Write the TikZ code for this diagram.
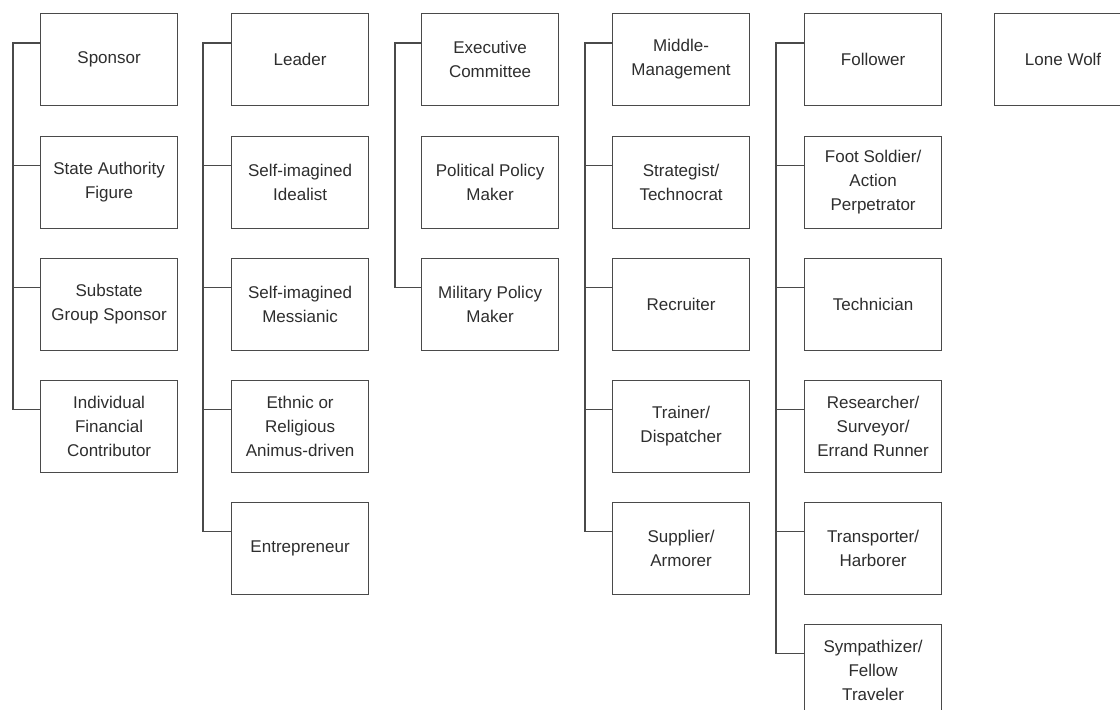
\documentclass[tikz,border=0pt]{standalone}
\usepackage{fontspec}
\setmainfont{Liberation Sans}
\definecolor{linec}{HTML}{4A4A4A}
\definecolor{textc}{HTML}{2E2E2E}
\tikzset{
  rolebox/.style={draw=linec, line width=1.2pt, fill=white, anchor=north west,
    minimum width=137pt, minimum height=92pt, inner sep=2pt, align=center,
    text=textc, font=\fontsize{17}{24}\selectfont},
  link/.style={draw=linec, line width=1.2pt}
}
\begin{document}
\begin{tikzpicture}[x=1pt,y=-1pt]
\useasboundingbox (0,0) rectangle (1120,710);
\clip (0,0) rectangle (1120,710);
\fill[white] (0,0) rectangle (1120,710);
% column 1
\node[rolebox] (sp)  at (40,13)    {Sponsor};
\node[rolebox] (sa)  at (40,135.5) {State Authority\\Figure};
\node[rolebox] (sg)  at (40,257.5) {Substate\\Group Sponsor};
\node[rolebox] (ifc) at (40,379.5) {Individual\\Financial\\Contributor};
% column 2
\node[rolebox] (le)  at (231,13)    {Leader};
\node[rolebox] (si)  at (231,135.5) {Self-imagined\\Idealist};
\node[rolebox] (sm)  at (231,257.5) {Self-imagined\\Messianic};
\node[rolebox] (er)  at (231,379.5) {Ethnic or\\Religious\\Animus-driven};
\node[rolebox] (en)  at (231,501.5) {Entrepreneur};
% column 3
\node[rolebox] (ec)  at (421,13)    {Executive\\Committee};
\node[rolebox] (pp)  at (421,135.5) {Political Policy\\Maker};
\node[rolebox] (mp)  at (421,257.5) {Military Policy\\Maker};
% column 4
\node[rolebox] (mm)  at (612,13)    {Middle-\\Management};
\node[rolebox] (st)  at (612,135.5) {Strategist/\\Technocrat};
\node[rolebox] (re)  at (612,257.5) {Recruiter};
\node[rolebox] (tr)  at (612,379.5) {Trainer/\\Dispatcher};
\node[rolebox] (su)  at (612,501.5) {Supplier/\\Armorer};
% column 5
\node[rolebox] (fo)  at (804,13)    {Follower};
\node[rolebox] (fs)  at (804,135.5) {Foot Soldier/\\Action\\Perpetrator};
\node[rolebox] (te)  at (804,257.5) {Technician};
\node[rolebox] (rs)  at (804,379.5) {Researcher/\\Surveyor/\\Errand Runner};
\node[rolebox] (tp)  at (804,501.5) {Transporter/\\Harborer};
\node[rolebox] (sy)  at (804,623.5) {Sympathizer/\\Fellow\\Traveler};
% column 6
\node[rolebox] (lw)  at (994,13)    {Lone Wolf};
% connectors column 1
\draw[link] ([yshift=-30pt]sp.north west) -- ++(-27,0) |- ([yshift=-30pt]ifc.north west);
\draw[link] ([yshift=-30pt]sa.north west) -- ++(-27,0);
\draw[link] ([yshift=-30pt]sg.north west) -- ++(-27,0);
% column 2
\draw[link] ([yshift=-30pt]le.north west) -- ++(-28,0) |- ([yshift=-30pt]en.north west);
\draw[link] ([yshift=-30pt]si.north west) -- ++(-28,0);
\draw[link] ([yshift=-30pt]sm.north west) -- ++(-28,0);
\draw[link] ([yshift=-30pt]er.north west) -- ++(-28,0);
% column 3
\draw[link] ([yshift=-30pt]ec.north west) -- ++(-26,0) |- ([yshift=-30pt]mp.north west);
% column 4
\draw[link] ([yshift=-30pt]mm.north west) -- ++(-27,0) |- ([yshift=-30pt]su.north west);
\draw[link] ([yshift=-30pt]st.north west) -- ++(-27,0);
\draw[link] ([yshift=-30pt]re.north west) -- ++(-27,0);
\draw[link] ([yshift=-30pt]tr.north west) -- ++(-27,0);
% column 5
\draw[link] ([yshift=-30pt]fo.north west) -- ++(-28,0) |- ([yshift=-30pt]sy.north west);
\draw[link] ([yshift=-30pt]fs.north west) -- ++(-28,0);
\draw[link] ([yshift=-30pt]te.north west) -- ++(-28,0);
\draw[link] ([yshift=-30pt]rs.north west) -- ++(-28,0);
\draw[link] ([yshift=-30pt]tp.north west) -- ++(-28,0);
\end{tikzpicture}
\end{document}
